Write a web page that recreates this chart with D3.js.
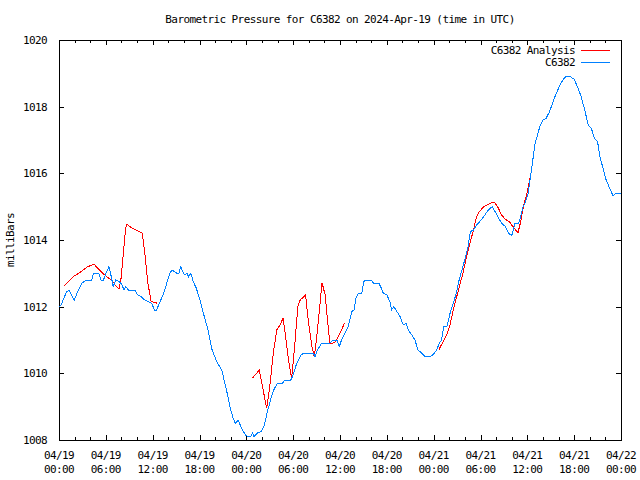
<!DOCTYPE html>
<html>
<head>
<meta charset="utf-8">
<script src="https://cdn.jsdelivr.net/npm/d3@7"></script>
<style>
  html, body { margin: 0; padding: 0; background: #fff; }
  text { font-family: "DejaVu Sans Mono", monospace; font-size: 11px; letter-spacing: -0.6px; fill: #000; }
</style>
</head>
<body>
<svg id="chart" width="640" height="480"></svg>
<script>
// ---- data (hours after 2024-04-19 00:00 UTC, millibars) ----
const titleText = "Barometric Pressure for C6382 on 2024-Apr-19 (time in UTC)";
const yLabelText = "milliBars";
const seriesNames = ["C6382 Analysis", "C6382"];
const yTickValues = [1008, 1010, 1012, 1014, 1016, 1018, 1020];

const observed = [
  [0.0,1012.0],[0.3,1012.05],[0.6,1012.25],[1.0,1012.45],[1.3,1012.5],[1.6,1012.35],[1.95,1012.2],
  [2.4,1012.45],[2.9,1012.7],[3.5,1012.8],[4.2,1012.8],[4.4,1013.0],[5.1,1013.0],[5.4,1012.8],
  [5.7,1012.8],[6.0,1013.0],[6.4,1013.2],[6.65,1012.95],[6.95,1012.6],[7.25,1012.8],[7.7,1012.75],
  [7.95,1012.7],[8.35,1012.5],[8.55,1012.6],[8.9,1012.5],[9.7,1012.5],[10.1,1012.35],[10.5,1012.3],
  [11.0,1012.2],[11.65,1012.13],[11.9,1012.1],[12.2,1011.9],[12.5,1011.9],[12.95,1012.15],
  [13.4,1012.4],[13.8,1012.7],[14.2,1013.0],[14.5,1013.1],[15.1,1013.0],[15.35,1013.0],[15.6,1013.2],
  [16.05,1012.95],[16.4,1013.0],[16.6,1012.9],[16.9,1013.0],[17.2,1012.75],[17.6,1012.55],
  [18.05,1012.2],[18.5,1011.8],[19.1,1011.3],[19.55,1010.75],[20.2,1010.35],[20.85,1010.1],
  [21.25,1009.7],[21.6,1009.35],[21.9,1009.0],[22.3,1008.65],[22.6,1008.5],[22.95,1008.6],
  [23.4,1008.35],[23.9,1008.15],[24.25,1008.1],[24.55,1008.1],[24.8,1008.2],[25.0,1008.1],
  [25.45,1008.22],[25.9,1008.25],[26.3,1008.43],[26.7,1008.85],[27.15,1009.25],[27.6,1009.55],
  [28.0,1009.7],[28.6,1009.7],[28.95,1009.8],[29.7,1009.8],[30.0,1009.95],[30.45,1010.3],
  [31.0,1010.55],[31.3,1010.6],[32.6,1010.6],[32.8,1010.5],[33.1,1010.7],[33.65,1010.9],
  [34.7,1010.9],[35.1,1011.0],[35.6,1011.0],[35.9,1010.8],[36.2,1011.0],[36.6,1011.2],
  [37.05,1011.4],[37.5,1011.85],[37.8,1011.9],[38.05,1012.25],[38.35,1012.4],[38.8,1012.4],
  [39.05,1012.75],[39.3,1012.8],[40.05,1012.8],[40.3,1012.7],[41.0,1012.7],[41.3,1012.55],
  [41.55,1012.4],[42.0,1012.35],[42.4,1012.15],[42.6,1011.9],[42.9,1012.0],[43.3,1011.85],
  [43.7,1011.7],[44.1,1011.45],[44.5,1011.5],[44.75,1011.3],[45.2,1011.15],[45.6,1011.0],
  [46.0,1010.7],[46.5,1010.6],[46.9,1010.5],[47.6,1010.5],[47.95,1010.57],[48.4,1010.7],
  [48.7,1010.9],[49.0,1011.0],[49.3,1011.4],[49.7,1011.4],[50.1,1011.8],[50.5,1012.1],
  [50.9,1012.4],[51.15,1012.7],[51.5,1013.0],[51.8,1013.25],[52.1,1013.5],[52.4,1013.8],
  [52.7,1014.25],[53.1,1014.3],[53.5,1014.45],[53.9,1014.55],[54.4,1014.7],[55.0,1014.9],
  [55.5,1015.0],[56.0,1014.8],[56.7,1014.5],[57.2,1014.4],[57.6,1014.2],[58.0,1014.13],
  [58.4,1014.5],[58.9,1014.5],[59.2,1014.75],[59.45,1015.0],[59.7,1015.1],[60.1,1015.4],
  [60.4,1015.9],[60.7,1016.4],[61.0,1016.9],[61.3,1017.15],[61.6,1017.4],[62.0,1017.6],
  [62.4,1017.65],[62.85,1017.85],[63.3,1018.15],[63.7,1018.4],[64.3,1018.7],[64.7,1018.85],
  [65.0,1018.92],[65.4,1018.92],[66.0,1018.82],[66.5,1018.55],[66.9,1018.3],[67.35,1017.9],
  [67.8,1017.45],[68.2,1017.35],[68.6,1017.05],[69.0,1016.95],[69.3,1016.5],[69.7,1016.15],
  [70.1,1015.8],[70.55,1015.55],[71.0,1015.32],[71.3,1015.4],[72.0,1015.4]
];

const analysis1 = [
  [0.7,1012.63],[1.83,1012.9],[2.7,1013.03],[3.67,1013.2],[4.5,1013.27],[5.4,1013.05],
  [6.1,1012.9],[6.75,1012.8],[7.2,1012.65],[7.7,1012.53],[7.95,1012.85],[8.24,1013.6],
  [8.54,1014.35],[8.67,1014.47],[9.3,1014.37],[10.16,1014.27],[10.67,1014.2],[11.0,1013.6],
  [11.36,1012.75],[11.8,1012.15],[12.3,1012.13],[12.6,1012.1]
];
const analysis2 = [
  [24.77,1009.85],[25.3,1010.0],[25.66,1010.1],[26.2,1009.45],[26.6,1008.95],[27.0,1009.6],
  [27.45,1010.6],[27.9,1011.3],[28.3,1011.45],[28.7,1011.65],[28.95,1011.25],[29.4,1010.4],
  [29.8,1009.85],[30.15,1010.7],[30.6,1012.0],[30.9,1012.2],[31.6,1012.35],[31.9,1011.65],
  [32.4,1010.8],[32.7,1010.5],[33.0,1011.05],[33.4,1012.0],[33.7,1012.72],[34.1,1012.35],
  [34.4,1011.6],[34.7,1010.9],[35.0,1010.9],[35.4,1010.95],[36.0,1011.2],[36.6,1011.52]
];
const analysis3 = [
  [48.7,1010.72],[49.2,1010.95],[49.66,1011.15],[50.1,1011.45],[50.5,1011.9],[50.95,1012.3],
  [51.4,1012.7],[51.8,1013.05],[52.2,1013.5],[52.65,1013.9],[53.1,1014.3],[53.5,1014.7],
  [53.85,1014.85],[54.4,1015.0],[55.4,1015.12],[55.85,1015.12],[56.3,1014.95],[56.7,1014.75],
  [57.2,1014.62],[57.7,1014.55],[58.0,1014.45],[58.5,1014.3],[58.8,1014.22],[59.1,1014.5],
  [59.5,1015.0],[60.0,1015.45],[60.3,1015.8],[60.55,1016.1]
];

// ---- chart ----
const W = 640, H = 480;
const m = { left: 59, right: 19, top: 40, bottom: 40 };
const start = Date.UTC(2024, 3, 19, 0, 0);
const toDate = h => new Date(start + h * 3600 * 1000);

const svg = d3.select("#chart");
const x = d3.scaleUtc()
  .domain([toDate(0), toDate(72)])
  .range([m.left, W - m.right]);
const y = d3.scaleLinear()
  .domain([1008, 1020])
  .range([H - m.bottom, m.top]);

const fmtDay = d3.utcFormat("%m/%d");
const fmtHour = d3.utcFormat("%H:%M");

const majorX = x.ticks(d3.utcHour.every(6));
const minorX = x.ticks(d3.utcHour.every(2)).filter(d => d.getUTCHours() % 6 !== 0);

function styleTicks(g) {
  g.select(".domain").remove();
  g.selectAll(".tick line").attr("stroke", "#000").attr("shape-rendering", "crispEdges");
}

// bottom axis (ticks inward)
const gB = svg.append("g").attr("transform", `translate(0,${H - m.bottom})`)
  .call(d3.axisBottom(x).tickValues(majorX).tickSizeInner(-5).tickSizeOuter(0).tickFormat(""))
  .call(styleTicks);
gB.append("g").call(d3.axisBottom(x).tickValues(minorX).tickSizeInner(-3).tickSizeOuter(0).tickFormat(""))
  .call(styleTicks);

// top mirror axis
const gT = svg.append("g").attr("transform", `translate(0,${m.top})`)
  .call(d3.axisTop(x).tickValues(majorX).tickSizeInner(-5).tickSizeOuter(0).tickFormat(""))
  .call(styleTicks);
gT.append("g").call(d3.axisTop(x).tickValues(minorX).tickSizeInner(-3).tickSizeOuter(0).tickFormat(""))
  .call(styleTicks);

// x labels (two lines)
const xl = svg.append("g").selectAll("text").data(majorX).join("text")
  .attr("text-anchor", "middle")
  .attr("x", d => x(d));
xl.append("tspan").attr("x", d => x(d)).attr("y", 459).text(d => fmtDay(d));
xl.append("tspan").attr("x", d => x(d)).attr("y", 473).text(d => fmtHour(d));

// left axis
const gL = svg.append("g").attr("transform", `translate(${m.left},0)`)
  .call(d3.axisLeft(y).tickValues(yTickValues).tickSizeInner(-5).tickSizeOuter(0).tickPadding(12).tickFormat(d3.format("d")))
  .call(styleTicks);
gL.selectAll(".tick text").attr("font-family", null).attr("font-size", null).attr("fill", "#000");

// right mirror axis
svg.append("g").attr("transform", `translate(${W - m.right},0)`)
  .call(d3.axisRight(y).tickValues(yTickValues).tickSizeInner(-5).tickSizeOuter(0).tickFormat(""))
  .call(styleTicks);

// border
svg.append("rect")
  .attr("x", m.left + 0.5).attr("y", m.top + 0.5)
  .attr("width", W - m.left - m.right).attr("height", H - m.top - m.bottom)
  .attr("fill", "none").attr("stroke", "#000").attr("stroke-width", 1)
  .attr("shape-rendering", "crispEdges");

// lines
const line = d3.line().x(d => x(toDate(d[0]))).y(d => y(d[1]));
const plot = svg.append("g");
[analysis1, analysis2, analysis3].forEach(seg => {
  plot.append("path").datum(seg).attr("d", line)
    .attr("fill", "none").attr("stroke", "#ff0000").attr("stroke-width", 1)
    .attr("shape-rendering", "crispEdges");
});
plot.append("path").datum(observed).attr("d", line)
  .attr("fill", "none").attr("stroke", "#0080ff").attr("stroke-width", 1)
  .attr("shape-rendering", "crispEdges");

// title
svg.append("text").attr("x", 340).attr("y", 23).attr("text-anchor", "middle").text(titleText);

// y label
svg.append("text").attr("transform", "translate(14,240) rotate(-90)")
  .attr("text-anchor", "middle").text(yLabelText);

// legend
const legColors = ["#ff0000", "#0080ff"];
const leg = svg.append("g");
seriesNames.forEach((name, i) => {
  const ly = 50 + i * 12;
  leg.append("text").attr("x", 575).attr("y", ly + 4).attr("text-anchor", "end").text(name);
  leg.append("line").attr("x1", 581).attr("x2", 610).attr("y1", ly + 0.5).attr("y2", ly + 0.5)
    .attr("stroke", legColors[i]).attr("stroke-width", 1).attr("shape-rendering", "crispEdges");
});
</script>
</body>
</html>
